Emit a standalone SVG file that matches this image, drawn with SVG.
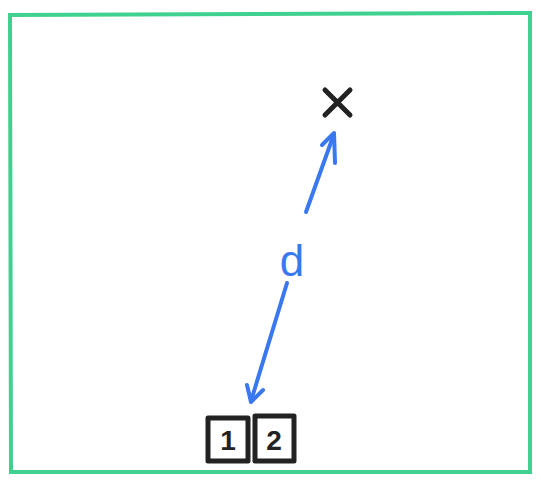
<svg xmlns="http://www.w3.org/2000/svg" width="541" height="480" viewBox="0 0 541 480">
<style>
.frame{fill:none;stroke:#3fd18f;stroke-width:4;stroke-linecap:round}
.box{fill:#fff;stroke:#222;stroke-width:5;stroke-linejoin:round}
.num{font-family:"Liberation Sans",sans-serif;font-size:28px;font-weight:bold;fill:#222;text-anchor:middle}
.conn{fill:none;stroke:#3a78f0;stroke-width:4;stroke-linecap:round;stroke-linejoin:round}
.lbl{font-family:"Liberation Sans",sans-serif;font-size:44px;fill:#3a78f0;text-anchor:middle}
</style>
<rect width="541" height="480" fill="#fff"/>
<g id="frame"><path class="frame" d="M10,15 L530,13 L530,472 L11,472 Z"/></g>
<g id="target">
<path d="M325,90 L350,115 M350,90 L325,115" stroke="#222" stroke-width="5" stroke-linecap="round"/>
</g>
<g id="node1"><rect class="box" x="208" y="418" width="40" height="43"/><text class="num" x="228" y="450">1</text></g>
<g id="node2"><rect class="box" x="255" y="416" width="39" height="45"/><text class="num" x="274" y="450">2</text></g>
<g id="connectors">
<path class="conn" d="M306,212 L334,134"/>
<path class="conn" d="M322,145 L334,133 L335,163"/>
<path class="conn" d="M287,283 L251,401"/>
<path class="conn" d="M247,385 L251,402 L263,390"/>
<text class="lbl" x="292" y="276">d</text>
</g>
</svg>
